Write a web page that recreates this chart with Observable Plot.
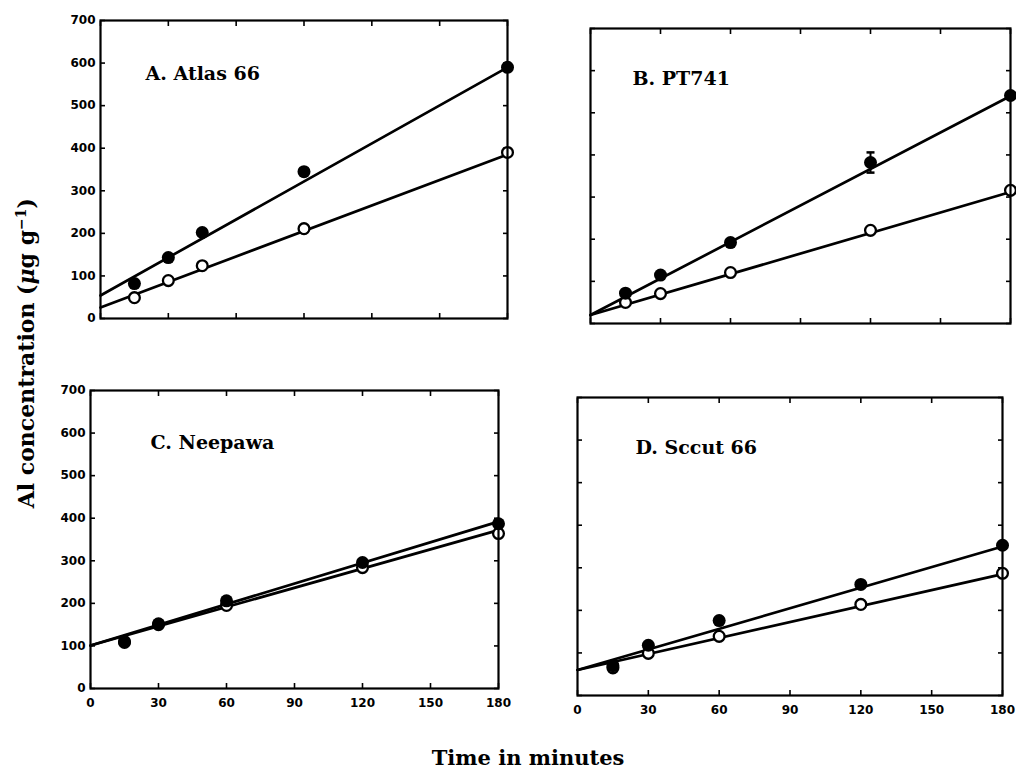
<!DOCTYPE html>
<html><head><meta charset="utf-8">
<script src="https://cdn.jsdelivr.net/npm/d3@7"></script>
<script src="https://cdn.jsdelivr.net/npm/@observablehq/plot@0.6"></script>
<style>
body{margin:0;background:#fff;}
#wrap{position:relative;width:1016px;height:777px;overflow:hidden;background:#fff;color:#000;}
.panel{position:absolute;}
#ytitle{position:absolute;left:-174px;top:340px;width:400px;text-align:center;transform:rotate(-90deg);font:bold 22px "DejaVu Serif";white-space:nowrap;}
#ytitle sup{font-size:14px;}
#xtitle{position:absolute;left:328px;top:745px;width:400px;text-align:center;font:bold 21px "DejaVu Serif";}
</style></head><body>
<div id="wrap">
  <div id="ytitle">Al concentration (<i>μ</i>g g<sup>−1</sup>)</div>
  <div id="xtitle">Time in minutes</div>
</div>
<script>
// ---- data ----
const panelLabels = ["A. Atlas 66", "B. PT741", "C. Neepawa", "D. Sccut 66"];
const timesA = [15, 30, 45, 90, 180];
const timesBCD = [15, 30, 60, 120, 180];
const filledA = [82, 143, 202, 345, 590];
const openA   = [49, 89, 124, 211, 390];
const filledB = [72, 115, 192, 382, 541];
const openB   = [50, 71, 121, 221, 316];
const filledC = [108, 152, 206, 296, 387];
const openC   = [110, 150, 195, 284, 364];
const filledD = [70, 118, 176, 261, 353];
const openD   = [65, 99, 139, 214, 287];
// fitted regression lines: value at t = 0 and t = 180
const lineTimes = [0, 180];
const fitFilledA = [54, 590], fitOpenA = [26, 385];
const fitFilledB = [20, 540], fitOpenB = [20, 312];
const fitFilledC = [101, 392], fitOpenC = [101, 372];
const fitFilledD = [60, 350], fitOpenD = [60, 285];
// error bar (panel B, filled, 120 min)
const errB = {t: 120, v: 382, e: 24};
const xTicks = [0, 30, 60, 90, 120, 150, 180];
const xTickLabels = ["0", "30", "60", "90", "120", "150", "180"];
const yTicks = [0, 100, 200, 300, 400, 500, 600, 700];
const yTickLabels = ["0", "100", "200", "300", "400", "500", "600", "700"];

const panels = [
  {label: panelLabels[0], times: timesA, filled: filledA, open: openA, fitF: fitFilledA, fitO: fitOpenA, err: null},
  {label: panelLabels[1], times: timesBCD, filled: filledB, open: openB, fitF: fitFilledB, fitO: fitOpenB, err: errB},
  {label: panelLabels[2], times: timesBCD, filled: filledC, open: openC, fitF: fitFilledC, fitO: fitOpenC, err: null},
  {label: panelLabels[3], times: timesBCD, filled: filledD, open: openD, fitF: fitFilledD, fitO: fitOpenD, err: null}
];

// ---- layout (style only) ----
const layout = [
  {left: 0,   top: 0,   width: 520, height: 340, ml: 100, mr: 13, mt: 20, mb: 22, showX: false, showY: true,  ldx: 45, ldy: 59},
  {left: 540, top: 0,   width: 476, height: 340, ml: 50,  mr: 6,  mt: 28, mb: 17, showX: false, showY: false, ldx: 42, ldy: 56},
  {left: 0,   top: 370, width: 520, height: 360, ml: 90,  mr: 22, mt: 20, mb: 42, showX: true,  showY: true,  ldx: 60, ldy: 58},
  {left: 540, top: 370, width: 476, height: 360, ml: 37,  mr: 14, mt: 27, mb: 35, showX: true,  showY: false, ldx: 58, ldy: 56}
];

const capSymbol = {draw(ctx) { ctx.moveTo(-4, 0); ctx.lineTo(4, 0); }};
const wrap = document.getElementById("wrap");

panels.forEach((p, i) => {
  const L = layout[i];
  const filledRows = p.times.map((t, j) => ({t, v: p.filled[j]}));
  const openRows = p.times.map((t, j) => ({t, v: p.open[j]}));
  const lineRows = [
    ...lineTimes.map((t, j) => ({t, v: p.fitF[j], k: "filled"})),
    ...lineTimes.map((t, j) => ({t, v: p.fitO[j], k: "open"}))
  ];
  const errRows = p.err ? [{t: p.err.t, lo: p.err.v - p.err.e, hi: p.err.v + p.err.e}] : [];
  const capRows = p.err ? [{t: p.err.t, v: p.err.v - p.err.e}, {t: p.err.t, v: p.err.v + p.err.e}] : [];

  const chart = Plot.plot({
    width: L.width, height: L.height,
    marginLeft: L.ml, marginRight: L.mr, marginTop: L.mt, marginBottom: L.mb,
    x: {domain: [0, 180]},
    y: {domain: [0, 700]},
    style: {fontFamily: "DejaVu Sans", fontWeight: "bold", fontSize: "12px", background: "transparent", overflow: "visible", color: "black"},
    marks: [
      Plot.axisX(xTicks, {anchor: "bottom", tickSize: -5, fill: "none", label: null, strokeWidth: 1.6}),
      Plot.axisX(xTicks, {anchor: "top", tickSize: -5, fill: "none", label: null, strokeWidth: 1.6}),
      Plot.axisY(yTicks, {anchor: "left", tickSize: -5, fill: "none", label: null, strokeWidth: 1.6}),
      Plot.axisY(yTicks, {anchor: "right", tickSize: -5, fill: "none", label: null, strokeWidth: 1.6}),
      L.showX ? Plot.axisX(xTicks, {anchor: "bottom", tickSize: 0, tickPadding: 10, label: null, tickFormat: d => xTickLabels[xTicks.indexOf(d)]}) : null,
      L.showY ? Plot.axisY(yTicks, {anchor: "left", tickSize: 0, tickPadding: 5, label: null, tickFormat: d => yTickLabels[yTicks.indexOf(d)]}) : null,
      Plot.line(lineRows, {x: "t", y: "v", z: "k", stroke: "black", strokeWidth: 2.7}),
      Plot.ruleX(errRows, {x: "t", y1: "lo", y2: "hi", stroke: "black", strokeWidth: 2}),
      Plot.dot(capRows, {x: "t", y: "v", symbol: capSymbol, stroke: "black", strokeWidth: 2.5, fill: "none"}),
      Plot.dot(openRows, {x: "t", y: "v", r: 5.4, stroke: "black", strokeWidth: 2.3, fill: "white"}),
      Plot.dot(filledRows, {x: "t", y: "v", r: 6.5, fill: "black", stroke: "none"}),
      Plot.frame({stroke: "black", strokeWidth: 2.2}),
      Plot.text([p.label], {frameAnchor: "top-left", dx: L.ldx, dy: L.ldy, text: d => d, fontFamily: "DejaVu Serif", fontWeight: "bold", fontSize: 19, textAnchor: "start", lineAnchor: "bottom", fill: "black"})
    ]
  });
  chart.classList.add("panel");
  chart.style.left = L.left + "px";
  chart.style.top = L.top + "px";
  wrap.appendChild(chart);
});
</script>
</body></html>
